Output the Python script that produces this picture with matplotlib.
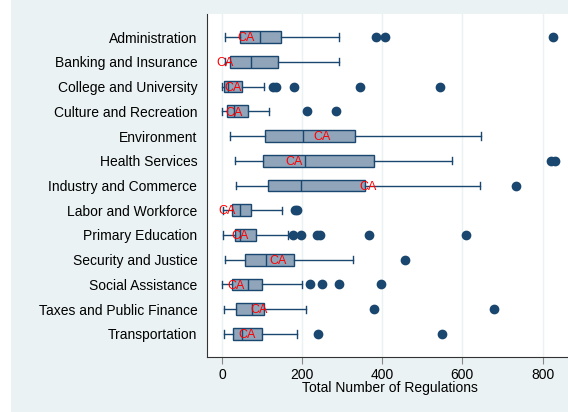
import matplotlib
matplotlib.use("Agg")
import matplotlib.pyplot as plt
from matplotlib.patches import Rectangle

plt.rcParams["font.family"] = ["Liberation Sans", "DejaVu Sans"]

categorias = ["Administration", "Banking and Insurance", "College and University",
              "Culture and Recreation", "Environment", "Health Services",
              "Industry and Commerce", "Labor and Workforce", "Primary Education",
              "Security and Justice", "Social Assistance", "Taxes and Public Finance",
              "Transportation"]

bigote_inf = [8, 8, 0, 0, 19, 33, 35, 2, 2, 8, 0, 4, 4]
q1 = [46, 19, 4, 12, 108, 103, 114, 24, 32, 57, 26, 34, 28]
mediana = [95, 73, 15, 29, 203, 207, 198, 46, 46, 110, 65, 74, 50]
q3 = [148, 141, 49, 64, 331, 380, 356, 73, 85, 181, 100, 104, 100]
bigote_sup = [292, 293, 106, 118, 646, 575, 645, 149, 166, 327, 200, 211, 188]
atipicos = [[384, 408, 825], [], [127, 135, 179, 344, 545], [213, 285], [],
            [820, 832], [733], [183, 187], [177, 197, 236, 245, 366, 608],
            [458], [220, 250, 291, 396], [380, 678], [240, 548]]
valor_ca = [59, 8, 27, 29, 249, 180, 365, 13, 45, 139, 36, 93, 62]

azul = "#1a476f"
relleno = "#90a4ba"
fondo = "#eaf2f3"

fig = plt.figure(figsize=(5.68, 4.12), dpi=100)
fig.patches.append(Rectangle((11 / 568, 0), 1, 1, transform=fig.transFigure,
                             facecolor=fondo, edgecolor="none", zorder=-10))
ax = fig.add_axes([207 / 568, 55 / 412, 1 - 207 / 568 + 0.01, 0.8337])
ax.set_facecolor("white")

stats = []
for i in range(len(categorias)):
    stats.append({"whislo": bigote_inf[i], "q1": q1[i], "med": mediana[i],
                  "q3": q3[i], "whishi": bigote_sup[i], "fliers": atipicos[i]})

pos = list(range(1, len(categorias) + 1))
ax.bxp(stats, positions=pos, vert=False, widths=0.48, patch_artist=True,
       capwidths=0.3,
       boxprops=dict(facecolor=relleno, edgecolor=azul, linewidth=1.0),
       medianprops=dict(color=azul, linewidth=1.0),
       whiskerprops=dict(color=azul, linewidth=1.0),
       capprops=dict(color=azul, linewidth=1.0),
       flierprops=dict(marker="o", markerfacecolor=azul, markeredgecolor=azul,
                       markersize=6))

for p, v in zip(pos, valor_ca):
    ax.text(v, p + 0.05, "CA", color="red", fontsize=9, ha="center", va="center",
            zorder=5)

ax.set_xlim(-37.3, 877.8)
ax.set_ylim(13.93, 0.05)
ax.set_yticks(pos)
ax.set_yticklabels(categorias, fontsize=10)
ax.set_xticks([0, 200, 400, 600, 800])
ax.tick_params(axis="x", labelsize=10, length=5, color="#888888", pad=3)
ax.tick_params(axis="y", length=0, pad=7)
ax.grid(axis="x", color=fondo, linewidth=1)
ax.set_axisbelow(True)
ax.set_xlabel("Total Number of Regulations", fontsize=10, labelpad=-1)

for s in ["top", "right"]:
    ax.spines[s].set_visible(False)
ax.spines["left"].set_color("#333333")
ax.spines["bottom"].set_color("#333333")

plt.savefig("out.png", dpi=100)
